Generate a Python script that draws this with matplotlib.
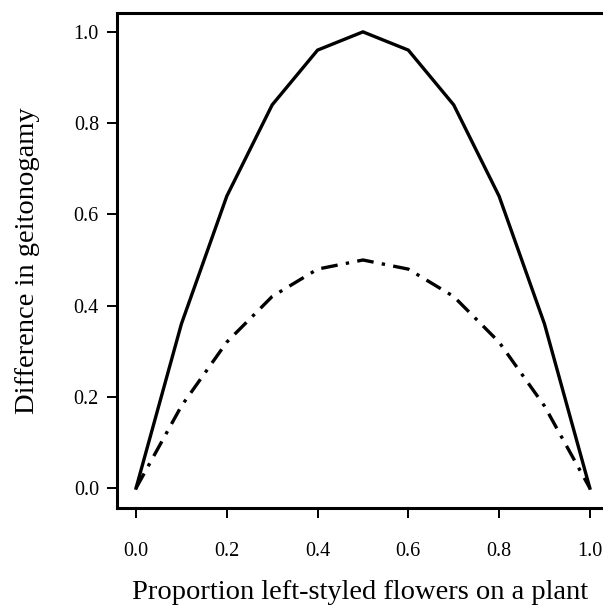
import matplotlib
matplotlib.use("Agg")
import matplotlib.pyplot as plt

p = [0.0, 0.1, 0.2, 0.3, 0.4, 0.5, 0.6, 0.7, 0.8, 0.9, 1.0]
solid_vals = [0.0, 0.36, 0.64, 0.84, 0.96, 1.0, 0.96, 0.84, 0.64, 0.36, 0.0]
dashdot_vals = [0.0, 0.18, 0.32, 0.42, 0.48, 0.50, 0.48, 0.42, 0.32, 0.18, 0.0]
xticks = [0.0, 0.2, 0.4, 0.6, 0.8, 1.0]
xticklabels = ["0.0", "0.2", "0.4", "0.6", "0.8", "1.0"]
yticks = [0.0, 0.2, 0.4, 0.6, 0.8, 1.0]
yticklabels = ["0.0", "0.2", "0.4", "0.6", "0.8", "1.0"]

plt.rcParams['font.family'] = ['Liberation Serif', 'DejaVu Serif']

fig = plt.figure(figsize=(6.03, 6.05), dpi=100)
ax = fig.add_axes([0.194, 0.160, 0.806, 0.819])

ax.plot(p, solid_vals, color='black', lw=2.4, solid_joinstyle='miter')
ax.plot(p, dashdot_vals, color='black', lw=2.4, dashes=(5, 2.5, 1, 2.5))

ax.set_xlim(-0.042, 1.029)
ax.set_ylim(-0.044, 1.042)

for s in ['left', 'top', 'bottom']:
    ax.spines[s].set_linewidth(2.2)
ax.spines['right'].set_visible(False)

ax.set_xticks(xticks)
ax.set_xticklabels(xticklabels)
ax.set_yticks(yticks)
ax.set_yticklabels(yticklabels)
ax.tick_params(axis='x', direction='out', length=7, width=1.4, pad=17, labelsize=14.5)
ax.tick_params(axis='y', direction='out', length=7, width=1.4, pad=6, labelsize=14.5)

ax.set_xlabel("Proportion left-styled flowers on a plant", fontsize=20.5, labelpad=14)
ax.set_ylabel("Difference in geitonogamy", fontsize=20.5, labelpad=24)

fig.savefig("out.png", dpi=100)
